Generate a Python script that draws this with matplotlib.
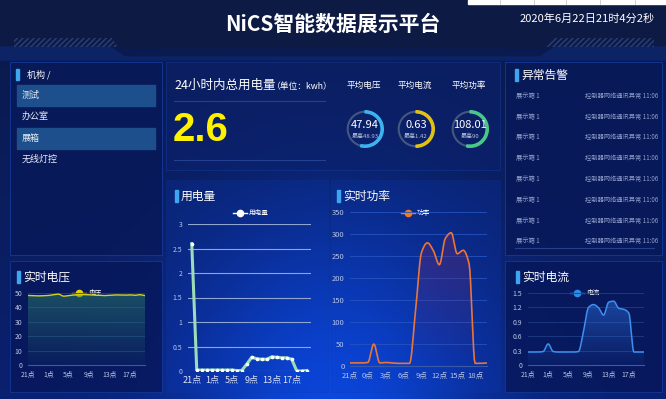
import numpy as np
import matplotlib.pyplot as plt
from matplotlib.patches import Rectangle, Wedge, Circle, Polygon
from matplotlib.colors import to_rgb

plt.rcParams['font.family'] = ['Noto Sans CJK SC', 'DejaVu Sans']

W, H = 666, 399

# ---- data ----
hours = [21, 22, 23] + list(range(0, 21))
hour_labels = [f"{h}点" for h in hours]

voltage = [48.3, 48.2, 48.0, 48.1, 48.3, 48.8, 49.2, 47.8, 48.2, 48.6, 48.8, 48.9,
           48.7, 48.5, 48.4, 48.2, 48.4, 48.7, 48.6, 48.5, 48.7, 48.4, 48.8, 48.2]
usage = [2.6, 0.02, 0.02, 0.02, 0.02, 0.02, 0.02, 0.02, 0.02, 0.01, 0.01, 0.14,
         0.28, 0.25, 0.24, 0.24, 0.29, 0.28, 0.27, 0.27, 0.24, 0.0, 0.0, 0.01]
power = [7, 7, 7, 8, 50, 7, 8, 7, 6, 6, 6, 125,
         258, 280, 262, 230, 290, 303, 255, 263, 232, 6, 6, 7]
current = [0.27, 0.27, 0.27, 0.28, 0.44, 0.28, 0.27, 0.27, 0.27, 0.27, 0.28, 0.7,
           1.2, 1.26, 1.19, 1.04, 1.31, 1.33, 1.18, 1.16, 1.08, 0.27, 0.27, 0.27]

total_kwh = "2.6"
gauge_names = ["平均电压", "平均电流", "平均功率"]
gauge_values = ["47.94", "0.63", "108.01"]
gauge_max = ["最高48.93", "最高1.42", "最高90"]
gauge_frac = [0.54, 0.5, 0.53]
gauge_colors = ["#3cb4f0", "#e2c215", "#48c98a"]

menu_items = ["测试", "办公室", "展箱", "无线灯控"]
menu_selected = [True, False, True, False]

alarm_names = ["展示箱 1"] * 8
alarm_msgs = ["控制器网络通讯异常 11:06"] * 8


def pchip(y, n=8):
    # monotone cubic through equally spaced points (echarts-like smooth line)
    y = np.asarray(y, float)
    x = np.arange(len(y))
    d = np.diff(y)
    m = np.zeros_like(y)
    for k in range(1, len(y) - 1):
        if d[k - 1] * d[k] > 0:
            m[k] = 2 / (1 / d[k - 1] + 1 / d[k])
    m[0], m[-1] = d[0], d[-1]
    xs, ys = [], []
    for k in range(len(y) - 1):
        t = np.linspace(0, 1, n, endpoint=False)
        h00 = 2 * t**3 - 3 * t**2 + 1
        h10 = t**3 - 2 * t**2 + t
        h01 = -2 * t**3 + 3 * t**2
        h11 = t**3 - t**2
        xs.append(x[k] + t)
        ys.append(h00 * y[k] + h10 * m[k] + h01 * y[k + 1] + h11 * m[k + 1])
    xs.append([x[-1]])
    ys.append([y[-1]])
    return np.concatenate(xs), np.concatenate(ys)


def gradient_fill(ax, x, y, color, a_top, a_bot, ymax):
    verts = np.vstack([np.column_stack([x, y]), [[x[-1], 0], [x[0], 0]]])
    clip = Polygon(verts, closed=True, facecolor='none', edgecolor='none')
    ax.add_patch(clip)
    grad = np.zeros((100, 1, 4))
    grad[:, :, :3] = to_rgb(color)
    grad[:, 0, 3] = np.linspace(a_bot, a_top, 100)
    im = ax.imshow(grad, aspect='auto', origin='lower',
                   extent=[x[0], x[-1], 0, ymax], zorder=1)
    im.set_clip_path(clip)


fig = plt.figure(figsize=(W / 100, H / 100), dpi=100)
bg = fig.add_axes([0, 0, 1, 1])
bg.set_xlim(0, W)
bg.set_ylim(H, 0)
bg.axis('off')

# background gradient with bright blue glow in the middle
yy, xx = np.mgrid[0:H, 0:W]
t = (yy / H)[..., None]
img = np.array(to_rgb('#0b1a4a')) * (1 - t) + np.array(to_rgb('#0a2070')) * t
glow = np.exp(-(((xx - 333) / 150) ** 2 + ((yy - 420) / 190) ** 2))[..., None]
img = img * (1 - glow) + np.array(to_rgb('#0a48e0')) * glow
bg.imshow(img, extent=[0, W, H, 0], aspect='auto', zorder=0)

# header
bg.add_patch(Rectangle((0, 0), W, 47, color='#0d1a44', zorder=1))
bg.add_patch(Polygon([(0, 47), (110, 47), (125, 57), (540, 57), (555, 47), (W, 47), (W, 60), (0, 60)],
                     color='#0c2366', zorder=1))
for xs in ([(14, 38), (112, 38), (118, 47), (14, 47)], [(552, 38), (654, 38), (654, 47), (546, 47)]):
    bg.add_patch(Polygon(xs, facecolor='none', edgecolor='#2b3f78', hatch='//////', lw=0, zorder=2))
bg.add_patch(Rectangle((468, 0), 198, 4, color='white', zorder=2))
for gx in [500, 534, 566, 600, 635]:
    bg.plot([gx, gx], [0, 4], color='#c8c8c8', lw=0.6, zorder=3)
bg.text(333, 24, "NiCS智能数据展示平台", color='white', fontsize=15, fontweight='bold',
        ha='center', va='center', zorder=5)
bg.text(587, 19, "2020年6月22日21时4分2秒", color='white', fontsize=8, ha='center', va='center', zorder=5)

# panels
panels = [(10, 62, 162, 255, '#08195a', 0.85), (10, 261, 162, 392, '#07175a', 0.8),
          (166, 62, 500, 170, '#0a2170', 0.5), (166, 180, 328, 392, '#0a3cc4', 0.2),
          (331, 180, 500, 392, '#0a3cc4', 0.2), (505, 62, 662, 255, '#08195a', 0.85),
          (505, 261, 662, 392, '#07175a', 0.8)]
for x0, y0, x1, y1, c, a in panels:
    bg.add_patch(Rectangle((x0, y0), x1 - x0, y1 - y0, facecolor=c, alpha=a,
                           edgecolor='#14399a', lw=0.7, zorder=1))


def panel_title(x, y, txt):
    bg.add_patch(Rectangle((x - 6, y - 6), 2.5, 12, color='#3ea6f0', zorder=5))
    bg.text(x, y, txt, color='white', fontsize=8.5, ha='left', va='center', zorder=5)


# left menu
bg.add_patch(Rectangle((16, 69), 2.5, 11, color='#3ea6f0', zorder=5))
bg.text(27, 75, "机构 /", color='white', fontsize=6.5, va='center', zorder=5)
for i, (name, sel) in enumerate(zip(menu_items, menu_selected)):
    yc = 95 + i * 21.5
    if sel:
        bg.add_patch(Rectangle((17, yc - 10.5), 138, 21, color='#1d4f8c', zorder=3))
    bg.text(22, yc, name, color='#e8eef8', fontsize=6.5, va='center', zorder=5)

# total energy + gauges
bg.text(174, 85, "24小时内总用电量", color='white', fontsize=9, va='center', zorder=5)
bg.text(272, 86, "（单位：kwh）", color='white', fontsize=6.3, va='center', zorder=5)
bg.plot([174, 325], [101, 101], color='#23418e', lw=0.8, zorder=4)
bg.plot([174, 325], [160, 160], color='#23418e', lw=0.8, zorder=4)
bg.text(173, 130, total_kwh, color='#fff200', fontsize=29, fontweight='bold',
        family='Liberation Sans', va='center', zorder=5)
for i in range(3):
    cx, cy = [365, 416, 470][i], 129
    bg.text(cx - 1, 85, gauge_names[i], color='white', fontsize=6.2, ha='center', va='center', zorder=5)
    bg.add_patch(Circle((cx, cy), 17.3, fill=False, edgecolor='#45577e', lw=1.5, zorder=4))
    bg.add_patch(Wedge((cx, cy), 18.3, -90, -90 + 360 * gauge_frac[i], width=2.2,
                       color=gauge_colors[i], zorder=5))
    bg.text(cx, cy - 4, gauge_values[i], color='white', fontsize=8, ha='center', va='center', zorder=6)
    bg.text(cx, cy + 7, gauge_max[i], color='#b8c2dc', fontsize=4.3, ha='center', va='center', zorder=6)

# alarms
panel_title(521, 75, "异常告警")
clip_box = Rectangle((505, 62), 149, 181, transform=bg.transData, visible=False)
bg.add_patch(clip_box)
for i, (nm, msg) in enumerate(zip(alarm_names, alarm_msgs)):
    yc = 96 + i * 20.8
    t1 = bg.text(516, yc, nm, color='#8e9ecb', fontsize=4.5, va='center', zorder=5)
    t2 = bg.text(585, yc, msg, color='#8e9ecb', fontsize=4.5, va='center', zorder=5)
    t1.set_clip_path(clip_box)
    t2.set_clip_path(clip_box)
bg.plot([515, 654], [248, 248], color='#23418e', lw=0.8, zorder=4)

panel_title(23, 277, "实时电压")
panel_title(181, 196, "用电量")
panel_title(343, 196, "实时功率")
panel_title(522, 277, "实时电流")


def legend(x, y, color, txt):
    bg.plot([x - 7, x + 7], [y, y], color=color, lw=1, zorder=6)
    bg.plot([x], [y], 'o', color=color, ms=4.5, zorder=7)
    bg.text(x + 9, y, txt, color='white', fontsize=4.8, va='center', zorder=7)


def chart(x0, y0, x1, y1):
    ax = fig.add_axes([x0 / W, 1 - y1 / H, (x1 - x0) / W, (y1 - y0) / H])
    ax.patch.set_alpha(0)
    for s in ['top', 'right', 'left']:
        ax.spines[s].set_visible(False)
    ax.spines['bottom'].set_color('#3a5aa8')
    ax.tick_params(length=0, colors='#b9c6e6', labelsize=5)
    ax.tick_params(axis='x', pad=4)
    ax.tick_params(axis='y', pad=4)
    ax.set_axisbelow(True)
    return ax


x = np.arange(24)

# voltage
ax = chart(28, 293, 145, 365)
sx, sy = pchip(voltage)
gradient_fill(ax, sx, sy, '#2a7a6a', 0.55, 0.05, 50)
ax.plot(sx, sy, color='#d6d21a', lw=1, zorder=3)
ax.set_xlim(0, 23)
ax.set_ylim(0, 50)
ax.set_yticks([0, 10, 20, 30, 40, 50])
ax.set_xticks(x[::4], hour_labels[::4])
ax.grid(axis='y', color='#1e3c86', lw=0.6)
legend(79, 293, '#e6d200', "电压")

# usage
ax = chart(188, 224, 311, 371)
ax.plot(x, usage, color='#9ddcb8', lw=2.2, zorder=3)
ax.plot(x, usage, 'o', color='white', ms=1.6, zorder=4)
ax.set_xlim(-0.75, 23.85)
ax.set_ylim(0, 3)
ax.set_yticks([0, 0.5, 1, 1.5, 2, 2.5, 3], ['0', '0.5', '1', '1.5', '2', '2.5', '3'])
ax.set_xticks(x[::4], hour_labels[::4])
ax.tick_params(axis='x', labelsize=6.5, colors='#dfe6f6', pad=3)
ax.grid(axis='y', color='#8fa6d0', lw=0.8)
ax.spines['bottom'].set_visible(False)
legend(240, 213, 'white', "用电量")

# power
ax = chart(350, 212, 487, 366)
sx, sy = pchip(power)
gradient_fill(ax, sx, sy, '#6a2a6e', 0.45, 0.0, 310)
ax.plot(sx, sy, color='#e8753a', lw=1.2, zorder=3)
ax.set_xlim(0, 23)
ax.set_ylim(0, 350)
ax.set_yticks(range(0, 351, 50))
ax.set_xticks(x[::3], hour_labels[::3])
ax.tick_params(labelsize=5.5)
ax.grid(axis='y', color='#2553c0', lw=0.6)
legend(408, 213, '#f27a1e', "功率")

# current
ax = chart(528, 293, 644, 365)
sx, sy = pchip(current)
gradient_fill(ax, sx, sy, '#2f72e0', 0.5, 0.05, 1.35)
ax.plot(sx, sy, color='#3f8ef0', lw=1.1, zorder=3)
ax.set_xlim(0, 23)
ax.set_ylim(0, 1.5)
ax.set_yticks([0, 0.3, 0.6, 0.9, 1.2, 1.5], ['0', '0.3', '0.6', '0.9', '1.2', '1.5'])
ax.set_xticks(x[::4], hour_labels[::4])
ax.grid(axis='y', color='#1e3c86', lw=0.6)
legend(577, 293, '#2e8be6', "电流")

fig.savefig('out.png', dpi=100)
